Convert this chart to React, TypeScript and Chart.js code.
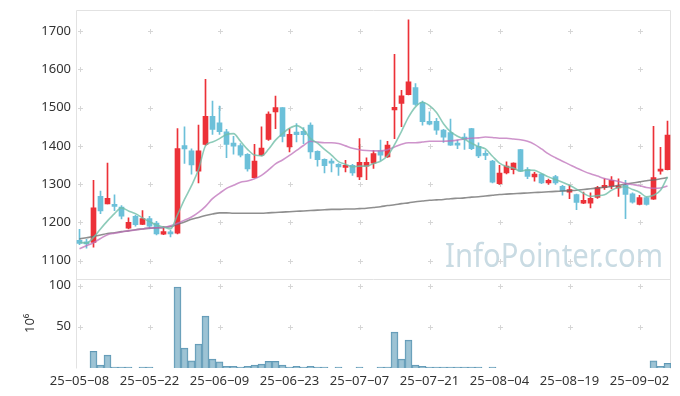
import React, { useEffect, useRef } from 'react';
import { Chart, registerables } from 'chart.js';

Chart.register(...registerables);

// ---- data ----
const dates = [
  '25-05-08', '25-05-09', '25-05-12', '25-05-13', '25-05-14', '25-05-15', '25-05-16', '25-05-19', '25-05-20', '25-05-21',
  '25-05-22', '25-05-23', '25-05-26', '25-05-27', '25-05-28', '25-05-29', '25-05-30', '25-06-02', '25-06-04', '25-06-05',
  '25-06-09', '25-06-10', '25-06-11', '25-06-12', '25-06-13', '25-06-16', '25-06-17', '25-06-18', '25-06-19', '25-06-20',
  '25-06-23', '25-06-24', '25-06-25', '25-06-26', '25-06-27', '25-06-30', '25-07-01', '25-07-02', '25-07-03', '25-07-04',
  '25-07-07', '25-07-08', '25-07-09', '25-07-10', '25-07-11', '25-07-14', '25-07-15', '25-07-16', '25-07-17', '25-07-18',
  '25-07-21', '25-07-22', '25-07-23', '25-07-24', '25-07-25', '25-07-28', '25-07-29', '25-07-30', '25-07-31', '25-08-01',
  '25-08-04', '25-08-05', '25-08-06', '25-08-07', '25-08-08', '25-08-11', '25-08-12', '25-08-13', '25-08-14', '25-08-18',
  '25-08-19', '25-08-20', '25-08-21', '25-08-22', '25-08-25', '25-08-26', '25-08-27', '25-08-28', '25-08-29', '25-09-01',
  '25-09-02', '25-09-03', '25-09-04', '25-09-05', '25-09-08',
];

const opens = [
  1153, 1149, 1148, 1268, 1248, 1247, 1240, 1185, 1216, 1195,
  1210, 1198, 1169, 1172, 1172, 1401, 1387, 1334, 1404, 1477,
  1460, 1437, 1407, 1401, 1378, 1317, 1376, 1417, 1489, 1500,
  1397, 1436, 1438, 1454, 1386, 1365, 1358, 1352, 1344, 1349,
  1319, 1347, 1355, 1387, 1371, 1494, 1511, 1534, 1552, 1513,
  1464, 1464, 1441, 1435, 1406, 1423, 1445, 1399, 1378, 1360,
  1301, 1329, 1338, 1390, 1338, 1319, 1326, 1303, 1320, 1294,
  1279, 1273, 1250, 1250, 1265, 1291, 1295, 1290, 1297, 1275,
  1247, 1265, 1261, 1334, 1338,
];

const highs = [
  1182, 1156, 1310, 1282, 1355, 1272, 1244, 1212, 1219, 1231,
  1216, 1203, 1189, 1179, 1445, 1450, 1392, 1454, 1574, 1517,
  1504, 1443, 1425, 1406, 1380, 1404, 1450, 1489, 1530, 1500,
  1445, 1458, 1448, 1460, 1387, 1366, 1366, 1354, 1362, 1352,
  1419, 1369, 1388, 1415, 1412, 1639, 1545, 1729, 1563, 1517,
  1489, 1472, 1443, 1470, 1415, 1432, 1446, 1408, 1388, 1362,
  1349, 1358, 1356, 1391, 1343, 1331, 1327, 1313, 1323, 1297,
  1297, 1274, 1279, 1277, 1294, 1314, 1320, 1314, 1310, 1277,
  1271, 1266, 1451, 1396, 1465,
];

const lows = [
  1142, 1133, 1135, 1223, 1248, 1231, 1209, 1183, 1190, 1194,
  1183, 1167, 1168, 1162, 1170, 1354, 1326, 1303, 1402, 1430,
  1430, 1369, 1378, 1371, 1334, 1316, 1374, 1414, 1445, 1410,
  1384, 1410, 1406, 1367, 1347, 1329, 1332, 1323, 1332, 1323,
  1312, 1312, 1341, 1362, 1370, 1419, 1450, 1533, 1506, 1454,
  1455, 1430, 1409, 1401, 1393, 1391, 1390, 1369, 1364, 1303,
  1299, 1327, 1327, 1333, 1314, 1308, 1301, 1299, 1299, 1271,
  1262, 1233, 1249, 1238, 1263, 1286, 1288, 1268, 1210, 1250,
  1246, 1245, 1260, 1326, 1337,
];

const closes = [
  1145, 1144, 1238, 1230, 1263, 1242, 1216, 1200, 1194, 1210,
  1190, 1170, 1176, 1170, 1393, 1392, 1350, 1387, 1477, 1443,
  1437, 1404, 1399, 1376, 1340, 1360, 1394, 1483, 1500, 1425,
  1430, 1429, 1429, 1384, 1364, 1348, 1355, 1345, 1348, 1329,
  1357, 1357, 1380, 1376, 1402, 1501, 1531, 1567, 1508, 1463,
  1457, 1441, 1423, 1402, 1402, 1417, 1393, 1374, 1375, 1305,
  1329, 1347, 1355, 1334, 1320, 1326, 1303, 1310, 1303, 1282,
  1286, 1252, 1258, 1263, 1291, 1297, 1310, 1295, 1273, 1253,
  1265, 1247, 1317, 1339, 1428,
];

const ma5 = [
  1148, 1146, 1161, 1183, 1204, 1223, 1238, 1230, 1223, 1212,
  1202, 1193, 1188, 1183, 1220, 1260, 1296, 1338, 1400, 1410,
  1419, 1430, 1432, 1412, 1391, 1376, 1374, 1391, 1415, 1432,
  1446, 1453, 1443, 1419, 1407, 1391, 1376, 1359, 1352, 1345,
  1347, 1347, 1354, 1360, 1374, 1403, 1438, 1475, 1502, 1514,
  1505, 1487, 1458, 1437, 1425, 1417, 1407, 1398, 1392, 1373,
  1355, 1346, 1342, 1334, 1337, 1336, 1328, 1319, 1312, 1305,
  1297, 1287, 1276, 1268, 1270, 1272, 1284, 1291, 1293, 1286,
  1279, 1267, 1271, 1284, 1319,
];

const ma20 = [
  1131, 1139, 1147, 1158, 1168, 1172, 1175, 1178, 1180, 1183,
  1185, 1186, 1187, 1191, 1198, 1206, 1214, 1226, 1242, 1262,
  1276, 1289, 1297, 1305, 1308, 1314, 1323, 1337, 1353, 1363,
  1375, 1388, 1401, 1412, 1410, 1408, 1408, 1406, 1400, 1394,
  1390, 1388, 1387, 1387, 1390, 1397, 1404, 1408, 1408, 1410,
  1412, 1412, 1412, 1413, 1415, 1418, 1420, 1421, 1423, 1422,
  1420, 1420, 1418, 1416, 1412, 1404, 1392, 1379, 1369, 1360,
  1351, 1342, 1334, 1327, 1321, 1315, 1311, 1307, 1302, 1299,
  1296, 1291, 1289, 1290, 1295,
];

const ma60 = [
  1157, 1160, 1163, 1167, 1171, 1173, 1176, 1178, 1181, 1183,
  1185, 1186, 1187, 1189, 1195, 1201, 1208, 1213, 1218, 1222,
  1225, 1225, 1224, 1224, 1224, 1224, 1224, 1225, 1226, 1227,
  1228, 1229, 1230, 1231, 1232, 1233, 1234, 1234, 1235, 1235,
  1236, 1237, 1239, 1241, 1244, 1246, 1249, 1251, 1254, 1256,
  1258, 1259, 1260, 1262, 1263, 1264, 1266, 1267, 1269, 1271,
  1273, 1274, 1275, 1276, 1277, 1278, 1279, 1280, 1281, 1282,
  1283, 1284, 1286, 1288, 1290, 1292, 1294, 1297, 1300, 1303,
  1306, 1309, 1311, 1314, 1317,
];

// volume in millions (10^6)
const volumes = [
  0, 0, 20.3, 3.3, 15.5, 1, 1, 1, 0, 1,
  1, 0, 0, 0, 98.4, 24, 8.5, 29, 63, 10.6,
  7.3, 2, 2, 1, 2, 3.3, 4.5, 8, 8, 3.3,
  1, 2, 1, 2, 1, 1, 0, 1, 0, 0,
  1, 0, 0, 1, 1, 43.5, 10.6, 33.8, 3.3, 2,
  1, 1, 1, 1, 1, 1, 1, 1, 0, 1,
  0, 0, 0, 0, 0, 0, 0, 0, 0, 0,
  0, 0, 0, 0, 0, 0, 0, 0, 0, 0,
  0, 0, 8.5, 2, 5.7,
];

const priceTicks = [1100, 1200, 1300, 1400, 1500, 1600, 1700];
const volumeTicks = [50, 100];
const labelEvery = 10;

// ---- styles ----
const RED = '#ec3138';
const BLUE = '#6cc0d9';
const FONT = '"Noto Sans", "DejaVu Sans", sans-serif';
const TEXT = '#333333';

const decorPlugin = {
  id: 'decor',
  beforeDatasetsDraw(chart: any) {
    const { ctx, scales } = chart;
    const x = scales.x;
    const y = scales.y;
    const yv = scales.yv;
    ctx.save();

    // watermark
    ctx.font = `33px ${FONT}`;
    ctx.fillStyle = '#c9dbe3';
    ctx.textAlign = 'left';
    ctx.textBaseline = 'alphabetic';
    const wm = 'InfoPointer.com';
    const w = ctx.measureText(wm).width;
    const targetW = 218;
    const sx = targetW / w;
    ctx.save();
    ctx.translate(x.right - 8 - targetW, y.bottom - 12);
    ctx.scale(sx, 1);
    ctx.fillText(wm, 0, 0);
    ctx.restore();

    // grid crosses
    ctx.strokeStyle = '#d6d6d6';
    ctx.lineWidth = 1;
    const xs: number[] = [];
    for (let i = 0; i < dates.length; i += labelEvery) xs.push(Math.round(x.getPixelForValue(i)) + 0.5);
    const cross = (px: number, py: number) => {
      ctx.moveTo(px - 2.5, py);
      ctx.lineTo(px + 2.5, py);
      ctx.moveTo(px, py - 2.5);
      ctx.lineTo(px, py + 2.5);
    };
    ctx.beginPath();
    for (const v of priceTicks) {
      const py = Math.round(y.getPixelForValue(v)) + 0.5;
      for (const px of xs) cross(px, py);
    }
    for (const v of volumeTicks) {
      const py = Math.round(yv.getPixelForValue(v)) + 0.5;
      for (const px of xs) cross(px, py);
    }
    ctx.stroke();

    // frames
    ctx.strokeStyle = '#e2e2e2';
    ctx.beginPath();
    const L = Math.round(x.left) + 0.5;
    const R = Math.round(x.right) - 0.5;
    const T = Math.round(y.top) + 0.5;
    const M = Math.round(y.bottom) + 0.5;
    const B = Math.round(yv.bottom) + 0.5;
    ctx.moveTo(L, B);
    ctx.lineTo(L, T);
    ctx.lineTo(R, T);
    ctx.lineTo(R, B);
    ctx.moveTo(L, M);
    ctx.lineTo(R, M);
    ctx.stroke();
    ctx.restore();
  },
};

export default function App() {
  const ref = useRef<HTMLCanvasElement>(null);

  useEffect(() => {
    const canvas = ref.current;
    if (!canvas) return;
    const colors = closes.map((c, i) => (c >= opens[i] ? RED : BLUE));
    const tickFont = { family: FONT, size: 13 };
    const plain = (v: any) => String(v);
    const fitY = (s: any) => {
      s.width = 76;
      s.paddingTop = 0;
      s.paddingBottom = 0;
    };

    const chart = new Chart(canvas, {
      type: 'bar',
      data: {
        labels: dates,
        datasets: [
          {
            type: 'line', label: 'MA5', data: ma5, yAxisID: 'y',
            borderColor: 'rgba(112,190,168,0.8)', borderWidth: 1.6, pointRadius: 0,
            cubicInterpolationMode: 'monotone', order: 1,
          } as any,
          {
            type: 'line', label: 'MA20', data: ma20, yAxisID: 'y',
            borderColor: 'rgba(190,112,185,0.75)', borderWidth: 1.6, pointRadius: 0,
            cubicInterpolationMode: 'monotone', order: 2,
          } as any,
          {
            type: 'line', label: 'MA60', data: ma60, yAxisID: 'y',
            borderColor: 'rgba(105,105,105,0.75)', borderWidth: 1.6, pointRadius: 0,
            cubicInterpolationMode: 'monotone', order: 3,
          } as any,
          {
            type: 'bar', label: 'body', data: opens.map((o, i) => [o, closes[i]]), yAxisID: 'y',
            backgroundColor: colors, barThickness: 5, grouped: false, minBarLength: 2, order: 4,
          } as any,
          {
            type: 'bar', label: 'wick', data: lows.map((l, i) => [l, highs[i]]), yAxisID: 'y',
            backgroundColor: colors, barThickness: 1, grouped: false, order: 5,
          } as any,
          {
            type: 'bar', label: 'volume', data: volumes, yAxisID: 'yv',
            backgroundColor: 'rgba(140,184,205,0.85)', borderColor: '#5f98b5', borderWidth: 1,
            barPercentage: 1, categoryPercentage: 1, grouped: false, order: 6,
          } as any,
        ],
      },
      options: {
        responsive: false,
        animation: false,
        devicePixelRatio: 1,
        layout: { padding: { top: 10, right: 9, bottom: 0.5, left: 0 } },
        plugins: { legend: { display: false }, tooltip: { enabled: false } },
        scales: {
          x: {
            type: 'category',
            offset: true,
            grid: { display: false, drawTicks: false },
            border: { display: false },
            ticks: {
              autoSkip: false, maxRotation: 0, minRotation: 0, padding: 6,
              color: TEXT, font: tickFont,
              callback: (_v: any, i: number) => (i % labelEvery === 0 ? dates[i].replace(/-/g, '\u2212') : null),
            },
          },
          yv: {
            type: 'linear',
            position: 'left',
            stack: 'panes',
            stackWeight: 89,
            min: 0,
            max: 108.5,
            grid: { display: false, drawTicks: false },
            border: { display: false },
            afterBuildTicks: (s: any) => { s.ticks = volumeTicks.map((v) => ({ value: v })); },
            afterFit: fitY,
            ticks: { padding: 5, color: TEXT, font: tickFont, callback: plain },
            title: {
              display: true, text: '10\u2076', color: TEXT,
              font: { family: FONT, size: 13 }, padding: { top: 22, bottom: 0 },
            },
          },
          y: {
            type: 'linear',
            position: 'left',
            stack: 'panes',
            stackWeight: 268,
            min: 1053,
            max: 1755,
            grid: { display: false, drawTicks: false },
            border: { display: false },
            afterBuildTicks: (s: any) => { s.ticks = priceTicks.map((v) => ({ value: v })); },
            afterFit: fitY,
            ticks: { padding: 5, color: TEXT, font: tickFont, callback: plain },
          },
        },
      } as any,
      plugins: [decorPlugin],
    });

    return () => chart.destroy();
  }, []);

  return (
    <div style={{ position: 'fixed', left: 0, top: 0, width: 680, height: 396, background: '#ffffff' }}>
      <canvas ref={ref} width={680} height={396} style={{ display: 'block', width: 680, height: 396 }} />
    </div>
  );
}
